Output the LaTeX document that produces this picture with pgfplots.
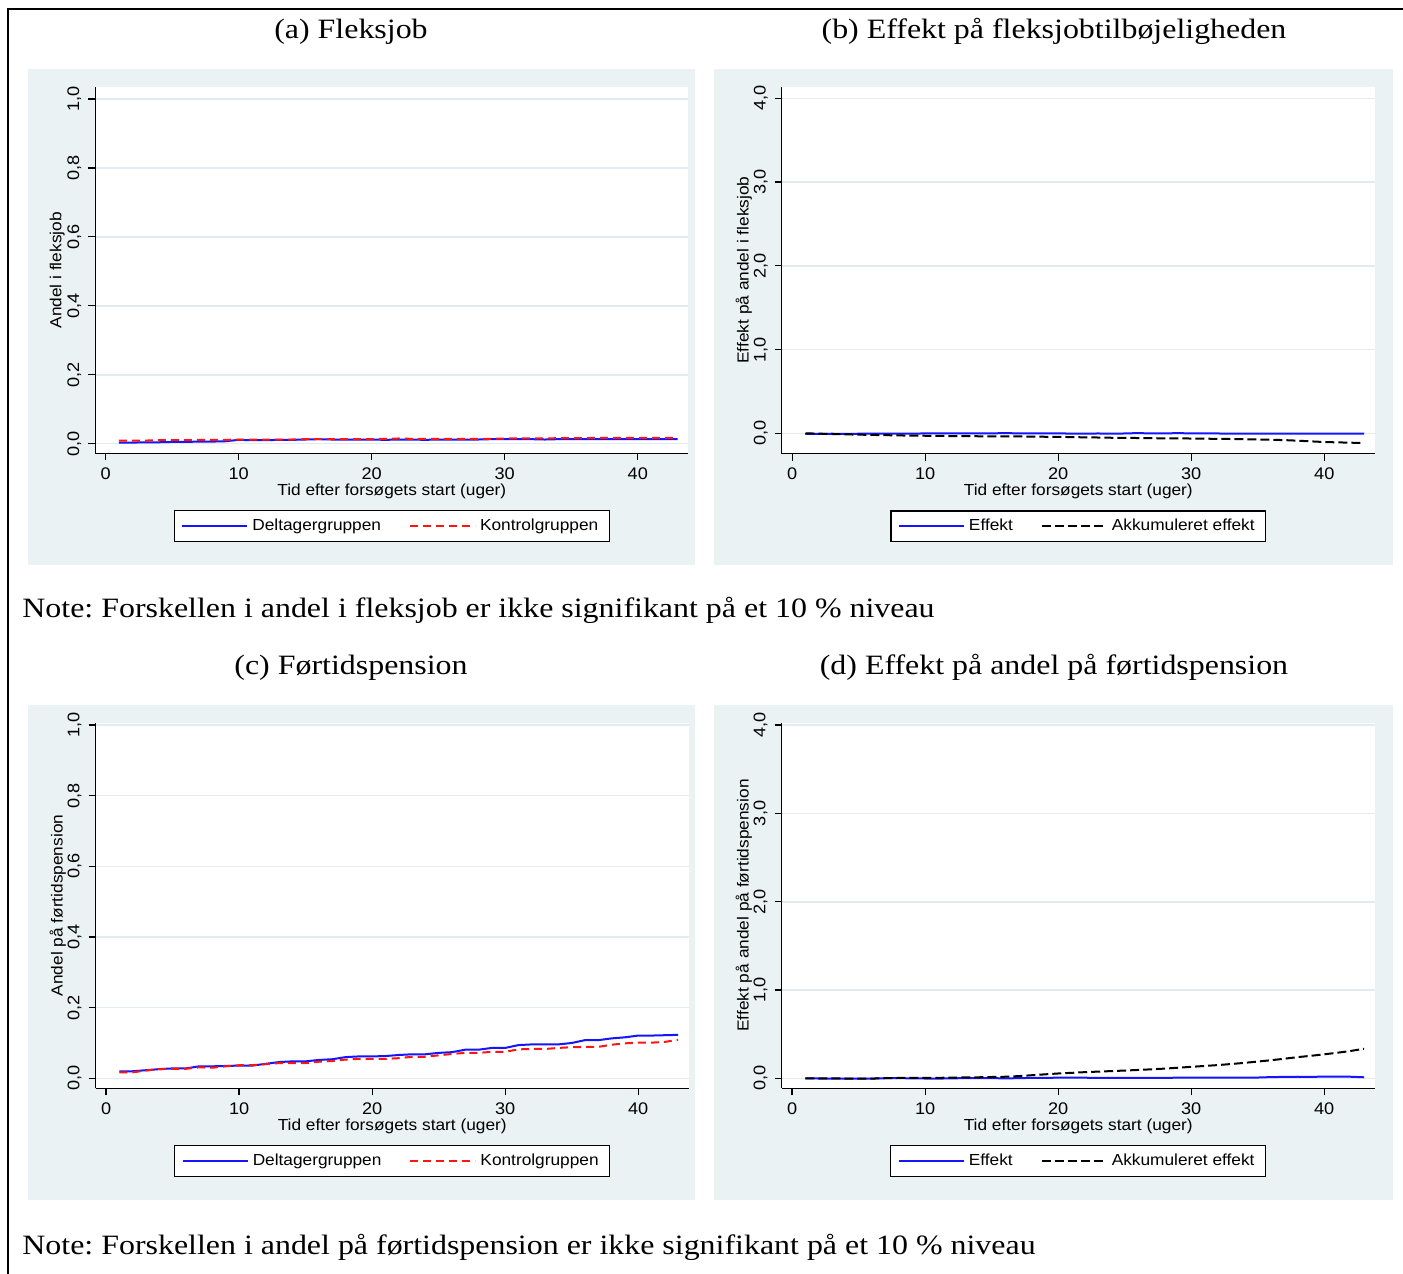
\documentclass[border=0pt]{standalone}
\usepackage{fontspec}
\setmainfont{Liberation Serif}[FakeStretch=1.14]
\newfontfamily\sansf{Liberation Sans}[FakeStretch=1.08]
\usepackage{pgfplots}
\pgfplotsset{compat=1.18}
\definecolor{panelbg}{RGB}{234,242,243}
\definecolor{gridc}{RGB}{226,236,240}
\definecolor{stblue}{RGB}{20,20,255}
\definecolor{stred}{RGB}{255,20,20}
\newcommand\axfont{\sansf\fontsize{8}{9.6}\selectfont}
\newcommand\tkfont{\sansf\fontsize{8.4}{10}\selectfont}
\newcommand\ttlfont{\rmfamily\fontsize{14}{16.8}\selectfont\frenchspacing}
\pgfplotsset{
  stata/.style={
    scale only axis, anchor=south west, width=296.5pt,
    axis x line*=bottom, axis y line*=left,
    axis line style={-, black, line width=0.6pt},
    axis background/.style={fill=white},
    tick align=outside, major tick length=3.5pt,
    tick style={black, line width=0.6pt},
    ymajorgrids, grid style={gridc, line width=0.8pt},
    xmin=-0.78, xmax=43.8, xtick={0,10,20,30,40},
    tick label style={font=\tkfont},
    label style={font=\axfont},
    /pgf/number format/assume math mode=true,
    yticklabel style={rotate=90, anchor=south,
      /pgf/number format/fixed, /pgf/number format/fixed zerofill,
      /pgf/number format/precision=1, /pgf/number format/use comma},
    xlabel={Tid efter forsøgets start (uger)},
    xlabel style={at={(axis description cs:0.5,-0.104)}, anchor=center},
    ylabel style={at={(axis description cs:-0.064,0.5)}, anchor=center},
    legend style={at={(0.5,-0.155)}, anchor=north, draw=black, line width=0.6pt,
      fill=white, font=\axfont, legend columns=2, inner xsep=3.5pt, inner ysep=2pt,
      /tikz/every even column/.append style={column sep=12pt}},
    legend cell align=left,
    legend image code/.code={\draw[#1] (0pt,0pt) -- (32.5pt,0pt);},
  },
  bl/.style={stblue, line width=1pt},
  rd/.style={stred, line width=1pt, dash pattern=on 4pt off 2.5pt},
  bk/.style={black, line width=1pt, dash pattern=on 4.5pt off 2pt},
}
\begin{document}
\begin{tikzpicture}[x=0.5pt,y=0.5pt]
\useasboundingbox (0,0) rectangle (1403,-1274);
\draw[line width=1pt] (1403,-9) -- (8,-9) -- (8,-1274);
\fill[panelbg] (28,-69) rectangle (695,-565);
\fill[panelbg] (714,-69) rectangle (1393,-565);
\fill[panelbg] (28,-705) rectangle (695,-1200);
\fill[panelbg] (714,-705) rectangle (1393,-1200);
\node[anchor=base, font=\ttlfont, inner sep=0pt] at (351,-39) {(a) Fleksjob};
\node[anchor=base, font=\ttlfont, inner sep=0pt] at (1054,-39) {(b) Effekt på fleksjobtilbøjeligheden};
\node[anchor=base west, font=\ttlfont, inner sep=0pt] at (22,-617) {Note: Forskellen i andel i fleksjob er ikke signifikant på et 10 \% niveau};
\node[anchor=base, font=\ttlfont, inner sep=0pt] at (351,-674) {(c) Førtidspension};
\node[anchor=base, font=\ttlfont, inner sep=0pt] at (1054,-674) {(d) Effekt på andel på førtidspension};
\node[anchor=base west, font=\ttlfont, inner sep=0pt] at (22,-1254) {Note: Forskellen i andel på førtidspension er ikke signifikant på et 10 \% niveau};

% (a)
\begin{axis}[stata, at={(47.65pt,-226.65pt)}, height=183pt,
  ymin=-0.028, ymax=1.034, ytick={0,0.2,0.4,0.6,0.8,1.0},
  ylabel={Andel i fleksjob}]
\addplot[bl] coordinates {(1,0.003)(2,0.003)(3,0.004)(4,0.004)(5,0.005)(6,0.005)(7,0.006)(8,0.006)(9,0.007)(10,0.011)(11,0.010)(12,0.010)(13,0.011)(14,0.011)(15,0.012)(16,0.013)(17,0.012)(18,0.012)(19,0.012)(20,0.012)(21,0.011)(22,0.012)(23,0.012)(24,0.011)(25,0.012)(26,0.012)(27,0.012)(28,0.012)(29,0.013)(30,0.013)(31,0.013)(32,0.013)(33,0.012)(34,0.013)(35,0.013)(36,0.013)(37,0.013)(38,0.013)(39,0.013)(40,0.013)(41,0.013)(42,0.013)(43,0.013)};
\addplot[rd] coordinates {(1,0.009)(2,0.009)(3,0.009)(4,0.010)(5,0.010)(6,0.010)(7,0.011)(8,0.011)(9,0.011)(10,0.012)(11,0.012)(12,0.012)(13,0.012)(14,0.012)(15,0.013)(16,0.013)(17,0.013)(18,0.013)(19,0.013)(20,0.013)(21,0.014)(22,0.015)(23,0.014)(24,0.014)(25,0.014)(26,0.014)(27,0.014)(28,0.014)(29,0.014)(30,0.015)(31,0.015)(32,0.015)(33,0.015)(34,0.016)(35,0.016)(36,0.016)(37,0.017)(38,0.017)(39,0.017)(40,0.017)(41,0.017)(42,0.017)(43,0.017)};
\legend{Deltagergruppen,Kontrolgruppen}
\end{axis}

% (b)
\begin{axis}[stata, at={(390.9pt,-226.75pt)}, height=183.4pt,
  ymin=-0.241, ymax=4.139, ytick={0,1,2,3,4},
  ylabel={Effekt på andel i fleksjob}]
\addplot[bl] coordinates {(1,-0.006)(2,-0.006)(3,-0.005)(4,-0.006)(5,-0.005)(6,-0.005)(7,-0.005)(8,-0.005)(9,-0.004)(10,-0.001)(11,-0.002)(12,-0.002)(13,-0.001)(14,-0.001)(15,-0.001)(16,0.003)(17,-0.001)(18,-0.001)(19,-0.001)(20,-0.001)(21,-0.003)(22,-0.003)(23,-0.002)(24,-0.003)(25,-0.002)(26,0.003)(27,-0.002)(28,-0.002)(29,0.003)(30,-0.002)(31,-0.002)(32,-0.002)(33,-0.003)(34,-0.003)(35,-0.003)(36,-0.003)(37,-0.004)(38,-0.004)(39,-0.004)(40,-0.004)(41,-0.004)(42,-0.004)(43,-0.004)};
\addplot[bk] coordinates {(1,0)(2,-0.004)(3,-0.008)(4,-0.012)(5,-0.016)(6,-0.019)(7,-0.022)(8,-0.025)(9,-0.028)(10,-0.029)(11,-0.031)(12,-0.033)(13,-0.034)(14,-0.035)(15,-0.036)(16,-0.036)(17,-0.037)(18,-0.039)(19,-0.041)(20,-0.042)(21,-0.045)(22,-0.048)(23,-0.050)(24,-0.053)(25,-0.055)(26,-0.056)(27,-0.058)(28,-0.060)(29,-0.061)(30,-0.062)(31,-0.064)(32,-0.066)(33,-0.068)(34,-0.071)(35,-0.074)(36,-0.077)(37,-0.081)(38,-0.088)(39,-0.096)(40,-0.104)(41,-0.108)(42,-0.112)(43,-0.116)};
\legend{Effekt,Akkumuleret effekt}
\end{axis}

% (c)
\begin{axis}[stata, at={(47.85pt,-544.15pt)}, height=182.8pt,
  ymin=-0.0283, ymax=1.0065, ytick={0,0.2,0.4,0.6,0.8,1.0},
  ylabel={Andel på førtidspension}]
\addplot[bl] coordinates {(1,0.020)(2,0.020)(3,0.023)(4,0.026)(5,0.028)(6,0.028)(7,0.034)(8,0.034)(9,0.035)(10,0.036)(11,0.036)(12,0.041)(13,0.046)(14,0.048)(15,0.048)(16,0.052)(17,0.054)(18,0.060)(19,0.062)(20,0.062)(21,0.063)(22,0.066)(23,0.068)(24,0.068)(25,0.072)(26,0.074)(27,0.081)(28,0.081)(29,0.086)(30,0.086)(31,0.094)(32,0.096)(33,0.096)(34,0.096)(35,0.100)(36,0.108)(37,0.108)(38,0.113)(39,0.116)(40,0.121)(41,0.121)(42,0.122)(43,0.123)};
\addplot[rd] coordinates {(1,0.017)(2,0.017)(3,0.022)(4,0.026)(5,0.027)(6,0.027)(7,0.031)(8,0.030)(9,0.034)(10,0.037)(11,0.037)(12,0.040)(13,0.043)(14,0.043)(15,0.043)(16,0.047)(17,0.049)(18,0.053)(19,0.055)(20,0.055)(21,0.055)(22,0.057)(23,0.061)(24,0.061)(25,0.065)(26,0.069)(27,0.072)(28,0.072)(29,0.075)(30,0.075)(31,0.082)(32,0.083)(33,0.083)(34,0.086)(35,0.088)(36,0.089)(37,0.089)(38,0.095)(39,0.099)(40,0.101)(41,0.101)(42,0.103)(43,0.109)};
\legend{Deltagergruppen,Kontrolgruppen}
\end{axis}

% (d)
\begin{axis}[stata, at={(390.85pt,-544.15pt)}, height=182.8pt,
  ymin=-0.113, ymax=4.027, ytick={0,1,2,3,4},
  ylabel={Effekt på andel på førtidspension}]
\addplot[bl] coordinates {(1,0)(2,-0.002)(3,-0.002)(4,-0.003)(5,-0.004)(6,-0.003)(7,0.001)(8,0.002)(9,0)(10,-0.002)(11,-0.003)(12,0)(13,0.002)(14,0.003)(15,0.003)(16,-0.001)(17,0.002)(18,0.005)(19,0.006)(20,0.007)(21,0.007)(22,0.007)(23,0.005)(24,0.005)(25,0.005)(26,0.005)(27,0.006)(28,0.006)(29,0.007)(30,0.008)(31,0.008)(32,0.008)(33,0.008)(34,0.008)(35,0.009)(36,0.014)(37,0.016)(38,0.018)(39,0.017)(40,0.019)(41,0.020)(42,0.018)(43,0.012)};
\addplot[bk] coordinates {(1,0)(2,0)(3,0)(4,-0.002)(5,-0.004)(6,-0.003)(7,0.002)(8,0.004)(9,0.005)(10,0.006)(11,0.006)(12,0.008)(13,0.010)(14,0.012)(15,0.015)(16,0.018)(17,0.025)(18,0.035)(19,0.045)(20,0.055)(21,0.062)(22,0.070)(23,0.076)(24,0.082)(25,0.088)(26,0.095)(27,0.102)(28,0.110)(29,0.120)(30,0.130)(31,0.140)(32,0.150)(33,0.162)(34,0.175)(35,0.190)(36,0.205)(37,0.222)(38,0.240)(39,0.255)(40,0.272)(41,0.290)(42,0.310)(43,0.335)};
\legend{Effekt,Akkumuleret effekt}
\end{axis}
\end{tikzpicture}
\end{document}
